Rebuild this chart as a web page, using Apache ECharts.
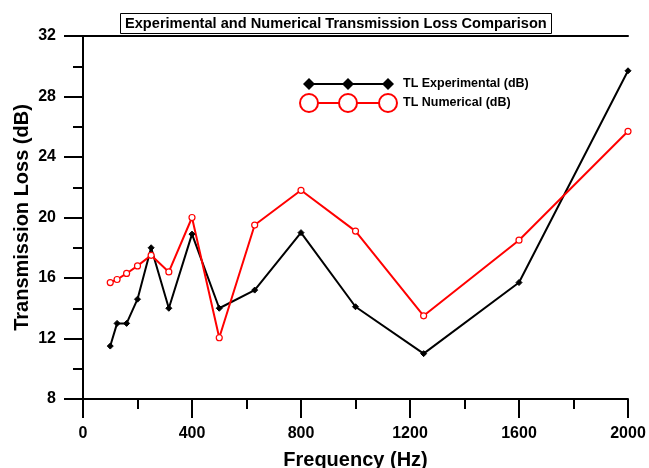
<!DOCTYPE html>
<html><head><meta charset="utf-8">
<script src="https://cdn.jsdelivr.net/npm/echarts@6/dist/echarts.min.js"></script>
<style>html,body{margin:0;padding:0;background:#fff}#c{width:649px;height:468px}</style>
</head><body><div id="c"></div>
<script>
var frequency = [100, 125, 160, 200, 250, 315, 400, 500, 630, 800, 1000, 1250, 1600, 2000];
var tlExperimental = [11.5, 13.0, 13.0, 14.6, 18.0, 14.0, 18.9, 14.0, 15.2, 19.0, 14.1, 11.0, 15.7, 29.7];
var tlNumerical = [15.7, 15.9, 16.3, 16.8, 17.5, 16.4, 20.0, 12.05, 19.5, 21.8, 19.1, 13.5, 18.5, 25.7];
var seriesNames = ['TL Experimental (dB)', 'TL Numerical (dB)'];
var titleText = 'Experimental and Numerical Transmission Loss Comparison';

var F = 'Liberation Sans, Arial, sans-serif';
function pairs(xs, ys){ return xs.map(function(x,i){return [x, ys[i]];}); }

var chart = echarts.init(document.getElementById('c'), null, {renderer:'canvas'});
var axisCommon = {
  axisLine:{show:true, onZero:false, lineStyle:{color:'#000', width:2}},
  axisTick:{show:true, inside:false, length:19, lineStyle:{color:'#000', width:2}},
  minorTick:{show:true, splitNumber:2, length:10, lineStyle:{color:'#000', width:2}},
  splitLine:{show:false},
  axisLabel:{color:'#000', fontFamily:F, fontWeight:'bold', fontSize:16, formatter:function(v){return String(v);}}
};
chart.setOption({
  animation:false,
  backgroundColor:'#fff',
  title:{
    text:titleText, left:120, top:13,
    padding:[3,5,3,5],
    borderColor:'#000', borderWidth:1,
    textStyle:{fontFamily:F, fontWeight:'bold', fontSize:14.6, color:'#000'}
  },
  grid:{left:83, right:21, top:36, bottom:69, containLabel:false, outerBoundsMode:'none'},
  xAxis:[
    Object.assign({}, axisCommon, {
      type:'value', min:0, max:2000, interval:400,
      name:'Frequency (Hz)', nameLocation:'middle', nameGap:51, nameMoveOverlap:false,
      nameTextStyle:{fontFamily:F, fontWeight:'bold', fontSize:20, color:'#000'},
      axisLabel:Object.assign({}, axisCommon.axisLabel, {margin:27})
    }),
    {type:'value', position:'top', min:0, max:2000,
     axisLine:{show:true, onZero:false, lineStyle:{color:'#000', width:2}},
     axisTick:{show:false}, axisLabel:{show:false}, splitLine:{show:false}}
  ],
  yAxis:Object.assign({}, axisCommon, {
    type:'value', min:8, max:32, interval:4,
    name:'Transmission Loss (dB)', nameLocation:'middle', nameGap:51, nameRotate:90, nameMoveOverlap:false,
    nameTextStyle:{fontFamily:F, fontWeight:'bold', fontSize:20, color:'#000'},
    axisLabel:Object.assign({}, axisCommon.axisLabel, {margin:27})
  }),
  series:[
    {name:seriesNames[0], type:'line', data:pairs(frequency, tlExperimental),
     symbol:'diamond', symbolSize:6, showAllSymbol:true,
     lineStyle:{color:'#000', width:2}, itemStyle:{color:'#000', borderColor:'#000', borderWidth:1}},
    {name:seriesNames[1], type:'line', data:pairs(frequency, tlNumerical),
     symbol:'circle', symbolSize:6, showAllSymbol:true,
     lineStyle:{color:'#ff0000', width:2}, itemStyle:{color:'#fff', borderColor:'#ff0000', borderWidth:1.2}}
  ],
  graphic:[
    {type:'line', shape:{x1:309,y1:84,x2:388,y2:84}, style:{stroke:'#000', lineWidth:2}},
    {type:'polygon', shape:{points:[[309,78],[315,84],[309,90],[303,84]]}, style:{fill:'#000'}},
    {type:'polygon', shape:{points:[[348,78],[354,84],[348,90],[342,84]]}, style:{fill:'#000'}},
    {type:'polygon', shape:{points:[[388,78],[394,84],[388,90],[382,84]]}, style:{fill:'#000'}},
    {type:'text', style:{x:403, y:84, text:seriesNames[0], fill:'#000', font:'bold 12.5px '+F, textVerticalAlign:'middle', verticalAlign:'middle'}},
    {type:'line', shape:{x1:309,y1:103,x2:388,y2:103}, style:{stroke:'#ff0000', lineWidth:2}},
    {type:'circle', shape:{cx:309,cy:103,r:9}, style:{fill:'#fff', stroke:'#ff0000', lineWidth:2}},
    {type:'circle', shape:{cx:348,cy:103,r:9}, style:{fill:'#fff', stroke:'#ff0000', lineWidth:2}},
    {type:'circle', shape:{cx:388,cy:103,r:9}, style:{fill:'#fff', stroke:'#ff0000', lineWidth:2}},
    {type:'text', style:{x:403, y:103, text:seriesNames[1], fill:'#000', font:'bold 12.5px '+F, textVerticalAlign:'middle', verticalAlign:'middle'}}
  ]
});
</script></body></html>
